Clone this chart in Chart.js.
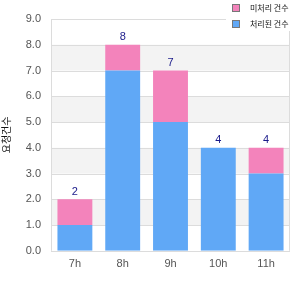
<!DOCTYPE html>
<html><head><meta charset="utf-8">
<script src="https://cdn.jsdelivr.net/npm/chart.js@4"></script>
<style>html,body{margin:0;padding:0;background:#fff}#wrap{width:300px;height:300px}</style>
</head><body><div id="wrap"><canvas id="c" width="300" height="300"></canvas></div>
<script>
const categories = ['7h','8h','9h','10h','11h'];
const doneValues = [1,7,5,4,3];
const pendingValues = [1,1,2,0,1];
const seriesNames = ['미처리 건수','처리된 건수'];
const yTitle = '요청건수';
const totals = categories.map((c,i)=>doneValues[i]+pendingValues[i]);

const FONT = '"Liberation Sans", Arial, sans-serif';
const BLUE = '#60a8f6', PINK = '#f383bb';

const bands = {
  id:'bands',
  beforeDatasetsDraw(chart){
    const {ctx, chartArea:a, scales:{y}} = chart;
    ctx.save();
    ctx.fillStyle = '#f3f3f3';
    for (let v=1; v<9; v+=2){
      const t = y.getPixelForValue(v+1), b = y.getPixelForValue(v);
      ctx.fillRect(a.left, t, a.right-a.left, b-t);
    }
    ctx.strokeStyle = '#dcdcdc'; ctx.lineWidth = 1;
    for (let v=0; v<=9; v++){
      const p = Math.round(y.getPixelForValue(v))+0.5;
      ctx.beginPath(); ctx.moveTo(a.left,p); ctx.lineTo(a.right,p); ctx.stroke();
    }
    ctx.beginPath();
    ctx.moveTo(Math.round(a.left)+0.5,a.top); ctx.lineTo(Math.round(a.left)+0.5,a.bottom);
    ctx.moveTo(Math.round(a.right)-0.5,a.top); ctx.lineTo(Math.round(a.right)-0.5,a.bottom);
    ctx.stroke();
    ctx.restore();
  }
};
const labelsPlugin = {
  id:'tot',
  afterDatasetsDraw(chart){
    const {ctx, scales:{x,y}} = chart;
    ctx.save();
    ctx.fillStyle = '#1a1a8a'; ctx.font = '11px '+FONT;
    ctx.textAlign='center'; ctx.textBaseline='bottom';
    totals.forEach((t,i)=>{
      ctx.fillText(String(t), x.getPixelForValue(i), y.getPixelForValue(t)-2);
    });
    ctx.restore();
  }
};
const legendPlugin = {
  id:'leg',
  afterDraw(chart){
    const {ctx} = chart;
    ctx.save();
    ctx.fillStyle='#fff'; ctx.fillRect(226,0,74,31);
    const items = [[seriesNames[0],PINK,4],[seriesNames[1],BLUE,20]];
    ctx.font = '8px "Noto Sans CJK KR", sans-serif'; ctx.textBaseline='middle'; ctx.textAlign='left';
    items.forEach(([t,c,yy])=>{
      ctx.fillStyle=c; ctx.fillRect(232,yy,7,7);
      ctx.strokeStyle='#777'; ctx.lineWidth=1; ctx.strokeRect(232.5,yy+0.5,7,7);
      ctx.fillStyle='#111'; ctx.fillText(t,250,yy+4);
    });
    ctx.restore();
  }
};

new Chart(document.getElementById('c'), {
  type:'bar',
  data:{labels:categories, datasets:[
    {label:seriesNames[1], data:doneValues, backgroundColor:BLUE, barPercentage:0.73, categoryPercentage:1},
    {label:seriesNames[0], data:pendingValues, backgroundColor:PINK, barPercentage:0.73, categoryPercentage:1}
  ]},
  options:{
    responsive:false, animation:false, devicePixelRatio:1,
    layout:{padding:{top:19,right:10,left:0,bottom:30}},
    plugins:{legend:{display:false}, tooltip:{enabled:false}},
    scales:{
      x:{stacked:true, grid:{display:false}, border:{display:false},
        ticks:{color:'#555', font:{family:FONT,size:11}, padding:-1}},
      y:{stacked:true, min:0, max:9, grid:{display:false}, border:{display:false},
        ticks:{stepSize:1, color:'#555', font:{family:FONT,size:11}, padding:2, callback:v=>Number(v).toFixed(1)},
        title:{display:true, text:yTitle, color:'#111', font:{family:'"Noto Sans CJK KR", sans-serif',size:10}, padding:{top:0,bottom:10}},
        afterFit(s){ s.width = 51; }
      }
    }
  },
  plugins:[bands, labelsPlugin, legendPlugin]
});
</script></body></html>
